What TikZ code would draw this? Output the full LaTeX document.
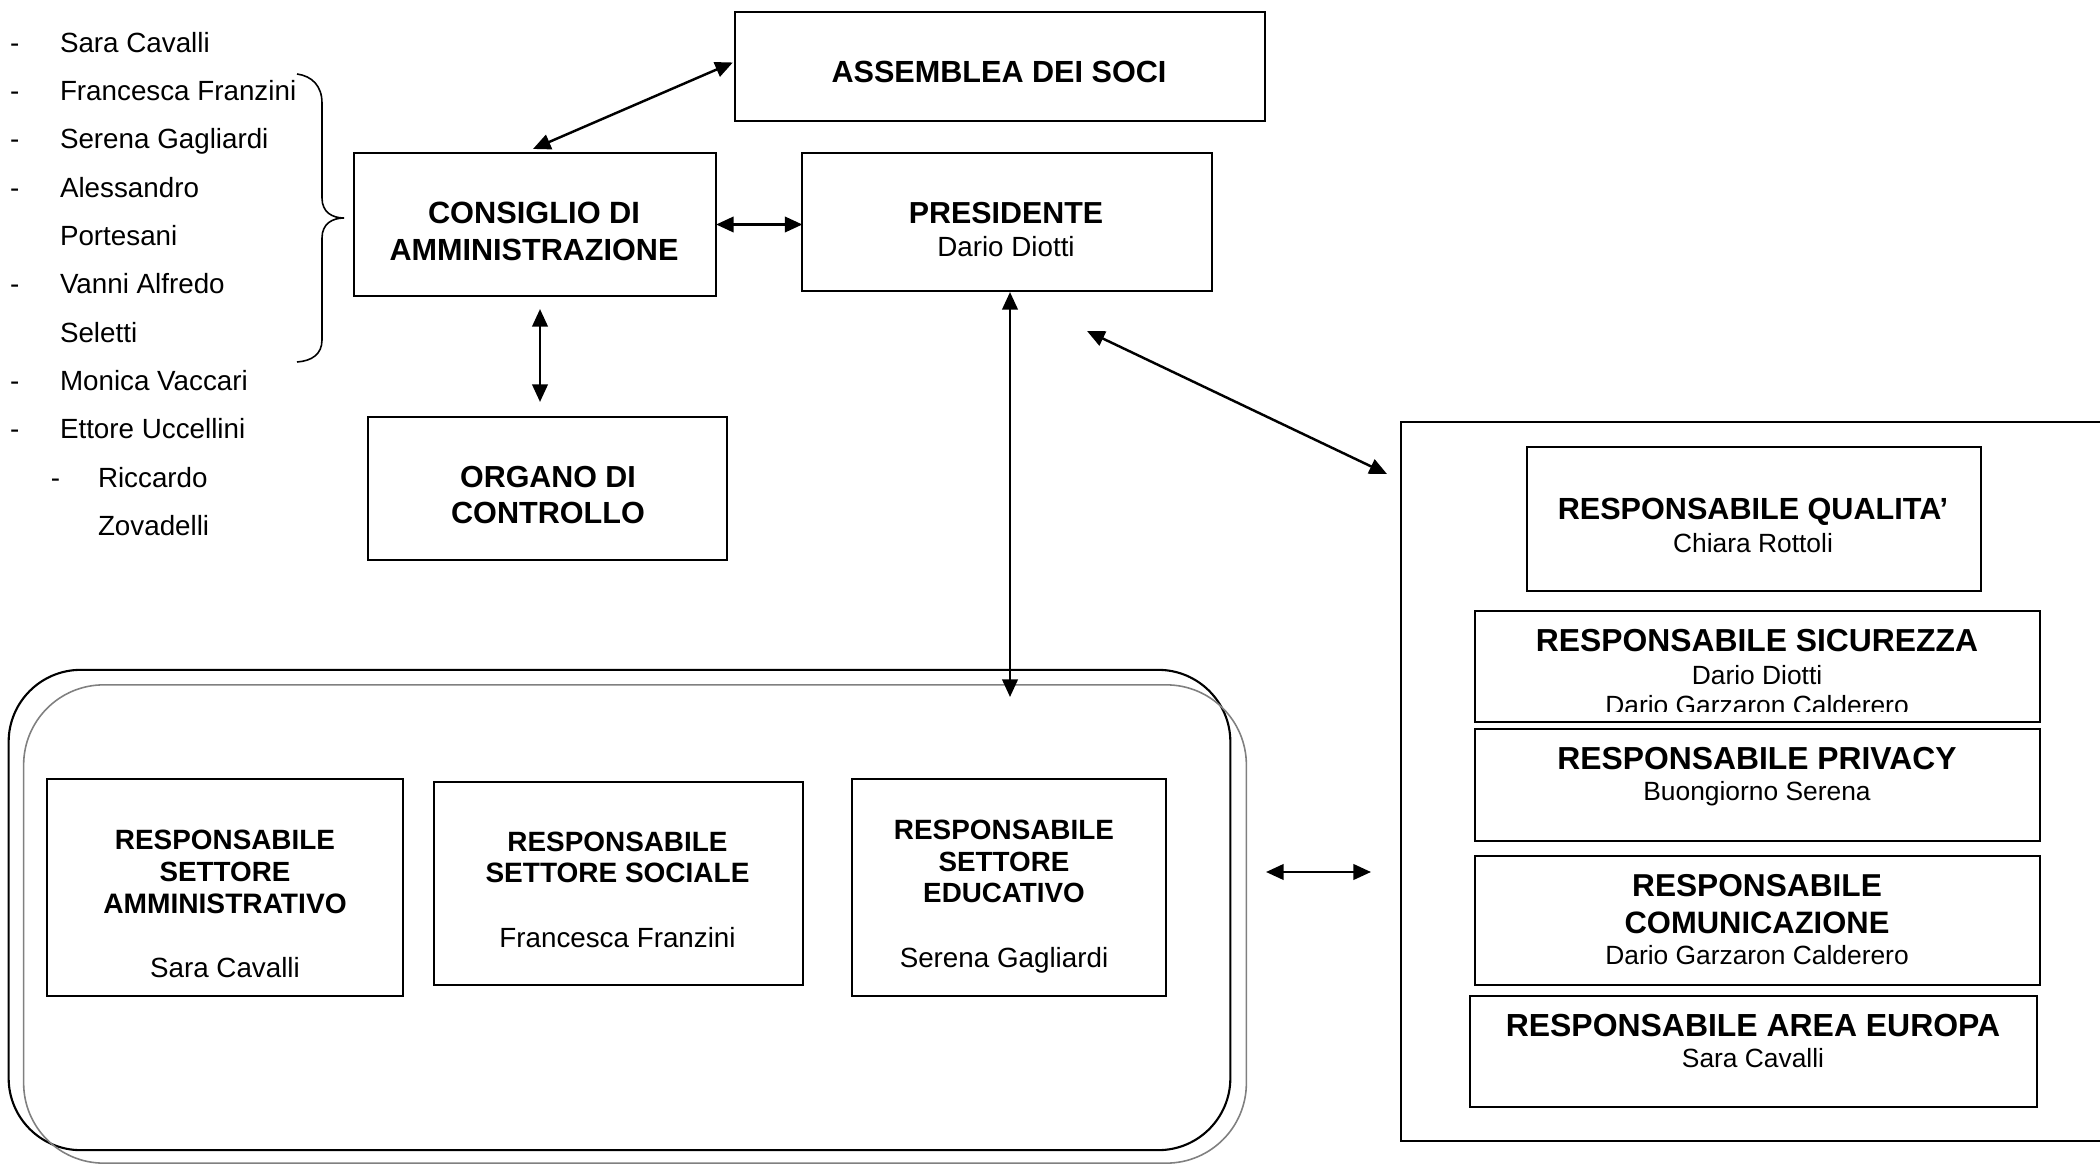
\documentclass[tikz,border=0pt]{standalone}
\usepackage{fontspec}
\setmainfont{Liberation Sans}
\usetikzlibrary{arrows.meta,calc}
\newcommand\bfz[1]{\fontsize{#1}{#1}\selectfont\bfseries}
\newcommand\rgz[1]{\fontsize{#1}{#1}\selectfont}
\begin{document}
\begin{tikzpicture}[x=0.01cm,y=-0.01cm,
  bx/.style={draw, line width=0.6pt, inner sep=0pt, outer sep=0pt},
  lb/.style={anchor=base, inner sep=0pt, outer sep=0pt},
  lw/.style={anchor=base west, inner sep=0pt, outer sep=0pt, font=\rgz{7.9}},
  arr/.style={line width=0.7pt, {Triangle[length=5pt,width=4.4pt]}-{Triangle[length=5pt,width=4.4pt]}}]
\useasboundingbox (0,0) rectangle (2100,1164);

% ---------- left list ----------
\node[lw] (d1) at (10,52.9) {-};
\node[lw] (n1) at (60,52.9) {Sara Cavalli};
\node[lw] (d2) at (10,100.7) {-};
\node[lw] (n2) at (60,100.7) {Francesca Franzini};
\node[lw] (d3) at (10,149) {-};
\node[lw] (n3) at (60,149) {Serena Gagliardi};
\node[lw] (d4) at (10,197.2) {-};
\node[lw] (n4) at (60,197.2) {Alessandro};
\node[lw] (n5) at (60,245.5) {Portesani};
\node[lw] (d6) at (10,294) {-};
\node[lw] (n6) at (60,294) {Vanni Alfredo};
\node[lw] (n7) at (60,342.5) {Seletti};
\node[lw] (d8) at (10,390.8) {-};
\node[lw] (n8) at (60,390.8) {Monica Vaccari};
\node[lw] (d9) at (10,439) {-};
\node[lw] (n9) at (60,439) {Ettore Uccellini};
\node[lw] (d10) at (51,487.4) {-};
\node[lw] (n10) at (98,487.4) {Riccardo};
\node[lw] (n11) at (98,535.7) {Zovadelli};

% brace
\draw[line width=0.45pt] (297,74) .. controls (312,76) and (322,86) .. (322,103)
  -- (322,198) .. controls (322,212) and (332,218) .. (344,218)
  .. controls (332,218) and (322,224) .. (322,238)
  -- (322,340) .. controls (322,354) and (312,361) .. (297,362);

% ---------- top boxes ----------
\node[bx, minimum width=5.30cm, minimum height=1.09cm] (asm) at (1000,66.5) {};
\node[lb, font=\bfz{8.7}] (tasm) at (999,83) {ASSEMBLEA DEI SOCI};

\node[bx, minimum width=3.62cm, minimum height=1.43cm] (cda) at (535,224.5) {};
\node[lb, font=\bfz{8.75}] (tcda1) at (534,224) {CONSIGLIO DI};
\node[lb, font=\bfz{8.7}] (tcda2) at (534,260.5) {AMMINISTRAZIONE};

\node[bx, minimum width=4.09cm, minimum height=1.38cm] (pres) at (1007,222) {};
\node[lb, font=\bfz{8.64}] (tpres1) at (1006,224) {PRESIDENTE};
\node[lb, font=\rgz{7.9}] (tpres2) at (1006,257) {Dario Diotti};

\node[bx, minimum width=3.59cm, minimum height=1.43cm] (org) at (547.5,488.5) {};
\node[lb, font=\bfz{8.65}] (torg1) at (548,487.5) {ORGANO DI};
\node[lb, font=\bfz{8.7}] (torg2) at (548,524) {CONTROLLO};

% ---------- bottom group ----------
\node[draw, line width=0.6pt, rounded corners=0.72cm, minimum width=12.21cm, minimum height=4.80cm, inner sep=0pt] (grp) at (619.5,910) {};
\node[draw=black!50, line width=0.45pt, rounded corners=0.8cm, minimum width=12.22cm, minimum height=4.78cm, inner sep=0pt] (grp2) at (635,924) {};

\node[bx, minimum width=3.56cm, minimum height=2.17cm] (b1) at (225,887.5) {};
\node[lb, font=\bfz{7.93}] (tb11) at (225,849) {RESPONSABILE};
\node[lb, font=\bfz{7.9}] (tb12) at (225,881) {SETTORE};
\node[lb, font=\bfz{8.0}] (tb13) at (225,913) {AMMINISTRATIVO};
\node[lb, font=\rgz{7.9}] (tb14) at (225,977) {Sara Cavalli};

\node[bx, minimum width=3.69cm, minimum height=2.03cm] (b2) at (618.5,883.5) {};
\node[lb, font=\bfz{7.93}] (tb21) at (617.5,851) {RESPONSABILE};
\node[lb, font=\bfz{7.96}] (tb22) at (617.5,882.5) {SETTORE SOCIALE};
\node[lb, font=\rgz{7.9}] (tb23) at (617.5,947) {Francesca Franzini};

\node[bx, minimum width=3.14cm, minimum height=2.17cm] (b3) at (1009,887.5) {};
\node[lb, font=\bfz{7.93}] (tb31) at (1004,839) {RESPONSABILE};
\node[lb, font=\bfz{7.9}] (tb32) at (1004,871) {SETTORE};
\node[lb, font=\bfz{7.9}] (tb33) at (1004,902.5) {EDUCATIVO};
\node[lb, font=\rgz{7.9}] (tb34) at (1004,967) {Serena Gagliardi};

% ---------- right container ----------
\draw[line width=0.5pt] (2100,422) -- (1401,422) -- (1401,1141) -- (2100,1141);

\node[bx, minimum width=4.54cm, minimum height=1.44cm] (qual) at (1754,519) {};
\node[lb, font=\bfz{8.7}] (tq1) at (1753,519) {RESPONSABILE QUALITA’};
\node[lb, font=\rgz{7.5}] (tq2) at (1753,552) {Chiara Rottoli};

\node[bx, minimum width=5.65cm, minimum height=1.11cm] (sic) at (1757.5,666.5) {};
\node[lb, font=\bfz{9.05}] (ts1) at (1757,651) {RESPONSABILE SICUREZZA};
\node[lb, font=\rgz{7.5}] (ts2) at (1757,684) {Dario Diotti};
\begin{scope}
\clip (1475,611) rectangle (2040,711);
\node[lb, font=\rgz{7.5}] (ts3) at (1757,714.5) {Dario Garzaron Calderero};
\end{scope}

\node[bx, minimum width=5.65cm, minimum height=1.12cm] (priv) at (1757.5,785) {};
\node[lb, font=\bfz{9.05}] (tp1) at (1757,769) {RESPONSABILE PRIVACY};
\node[lb, font=\rgz{7.5}] (tp2) at (1757,800.5) {Buongiorno Serena};

\node[bx, minimum width=5.65cm, minimum height=1.29cm] (com) at (1757.5,920.5) {};
\node[lb, font=\bfz{9.0}] (tc1) at (1757,896) {RESPONSABILE};
\node[lb, font=\bfz{8.8}] (tc2) at (1757,933.5) {COMUNICAZIONE};
\node[lb, font=\rgz{7.5}] (tc3) at (1757,964) {Dario Garzaron Calderero};

\node[bx, minimum width=5.67cm, minimum height=1.11cm] (eur) at (1753.5,1051.5) {};
\node[lb, font=\bfz{9.08}] (te1) at (1753,1036) {RESPONSABILE AREA EUROPA};
\node[lb, font=\rgz{7.5}] (te2) at (1753,1067.5) {Sara Cavalli};

% ---------- connectors ----------
\coordinate (gin) at (1010,697);
\coordinate (dg1) at (1087,331);
\coordinate (dg2) at (1387,474);
\coordinate (hz1) at (1266,872);
\coordinate (hz2) at (1371,872);

\draw[arr] ($(cda.north)+(-2,-4)$) -- ($(asm.west)+(-2,-4)$);
\draw[arr] (cda.east) -- (cda.east -| pres.west);
\draw[arr] ($(cda.south)+(5,13)$) -- ($(org.north)+(-7.5,-15)$);
\draw[arr] ($(pres.south)+(3,1)$) -- (gin);
\draw[arr] (dg1) -- (dg2);
\draw[arr] (hz1) -- (hz2);
\end{tikzpicture}
\end{document}
